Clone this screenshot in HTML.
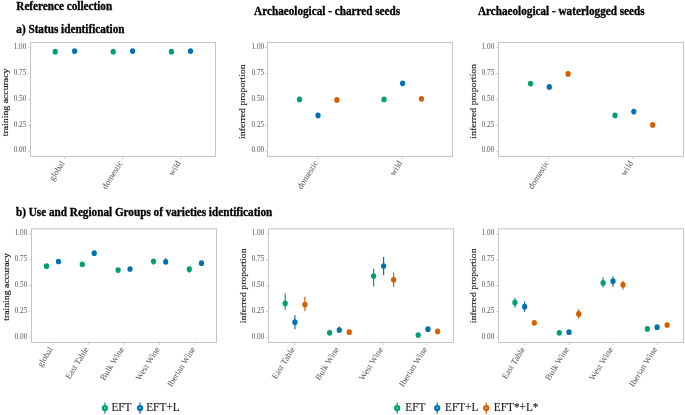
<!DOCTYPE html><html><head><meta charset="utf-8"><style>html,body{margin:0;padding:0;background:#fff;width:685px;height:415px;overflow:hidden}svg{display:block;filter:blur(0.4px)} svg text{font-family:"Liberation Serif",serif}</style></head><body>
<svg width="685" height="415" viewBox="0 0 685 415" font-family='"Liberation Serif", serif'>
<rect width="685" height="415" fill="#fff"/>
<g font-weight="bold" font-size="11.2" fill="#000" stroke="#000" stroke-width="0.3">
<text transform="translate(16.30,9.70) scale(1,1.1)" >Reference collection</text>
<text transform="translate(16.30,33.30) scale(1,1.1)" >a) Status identification</text>
<text transform="translate(254.10,14.80) scale(1,1.1)" >Archaeological - charred seeds</text>
<text transform="translate(477.90,14.80) scale(1,1.1)" >Archaeological - waterlogged seeds</text>
<text transform="translate(16.00,215.90) scale(1,1.1)" >b) Use and Regional Groups of varieties identification</text>
</g>
<rect x="30.5" y="42.5" width="185.00" height="113.90" fill="none" stroke="#c4c4c4" stroke-width="1"/>
<line x1="28.00" x2="30.50" y1="47.68" y2="47.68" stroke="#c4c4c4" stroke-width="0.8"/>
<text x="26.30" y="48.88" font-size="7.2" fill="#555555" text-anchor="end">1.00</text>
<line x1="28.00" x2="30.50" y1="73.56" y2="73.56" stroke="#c4c4c4" stroke-width="0.8"/>
<text x="26.30" y="74.76" font-size="7.2" fill="#555555" text-anchor="end">0.75</text>
<line x1="28.00" x2="30.50" y1="99.45" y2="99.45" stroke="#c4c4c4" stroke-width="0.8"/>
<text x="26.30" y="100.65" font-size="7.2" fill="#555555" text-anchor="end">0.50</text>
<line x1="28.00" x2="30.50" y1="125.34" y2="125.34" stroke="#c4c4c4" stroke-width="0.8"/>
<text x="26.30" y="126.54" font-size="7.2" fill="#555555" text-anchor="end">0.25</text>
<line x1="28.00" x2="30.50" y1="151.22" y2="151.22" stroke="#c4c4c4" stroke-width="0.8"/>
<text x="26.30" y="152.42" font-size="7.2" fill="#555555" text-anchor="end">0.00</text>
<line x1="64.50" x2="64.50" y1="156.40" y2="158.90" stroke="#c4c4c4" stroke-width="0.8"/>
<text transform="translate(59.50,159.70) scale(1,1.0) rotate(-58)" font-size="8.7" fill="#555555" text-anchor="end" dominant-baseline="hanging">global</text>
<line x1="122.55" x2="122.55" y1="156.40" y2="158.90" stroke="#c4c4c4" stroke-width="0.8"/>
<text transform="translate(117.55,159.70) scale(1,1.0) rotate(-58)" font-size="8.7" fill="#555555" text-anchor="end" dominant-baseline="hanging">domestic</text>
<line x1="180.60" x2="180.60" y1="156.40" y2="158.90" stroke="#c4c4c4" stroke-width="0.8"/>
<text transform="translate(175.60,159.70) scale(1,1.0) rotate(-58)" font-size="8.7" fill="#555555" text-anchor="end" dominant-baseline="hanging">wild</text>
<text transform="translate(8.40,102.40) scale(1,1.1) rotate(-90)" font-size="8.9" fill="#1a1a1a" stroke="#1a1a1a" stroke-width="0.15" text-anchor="middle">training accuracy</text>
<rect x="267.5" y="42.5" width="185.00" height="113.90" fill="none" stroke="#c4c4c4" stroke-width="1"/>
<line x1="265.00" x2="267.50" y1="47.68" y2="47.68" stroke="#c4c4c4" stroke-width="0.8"/>
<text x="264.10" y="48.88" font-size="7.2" fill="#555555" text-anchor="end">1.00</text>
<line x1="265.00" x2="267.50" y1="73.56" y2="73.56" stroke="#c4c4c4" stroke-width="0.8"/>
<text x="264.10" y="74.76" font-size="7.2" fill="#555555" text-anchor="end">0.75</text>
<line x1="265.00" x2="267.50" y1="99.45" y2="99.45" stroke="#c4c4c4" stroke-width="0.8"/>
<text x="264.10" y="100.65" font-size="7.2" fill="#555555" text-anchor="end">0.50</text>
<line x1="265.00" x2="267.50" y1="125.34" y2="125.34" stroke="#c4c4c4" stroke-width="0.8"/>
<text x="264.10" y="126.54" font-size="7.2" fill="#555555" text-anchor="end">0.25</text>
<line x1="265.00" x2="267.50" y1="151.22" y2="151.22" stroke="#c4c4c4" stroke-width="0.8"/>
<text x="264.10" y="152.42" font-size="7.2" fill="#555555" text-anchor="end">0.00</text>
<line x1="317.95" x2="317.95" y1="156.40" y2="158.90" stroke="#c4c4c4" stroke-width="0.8"/>
<text transform="translate(312.95,159.70) scale(1,1.0) rotate(-58)" font-size="8.7" fill="#555555" text-anchor="end" dominant-baseline="hanging">domestic</text>
<line x1="402.05" x2="402.05" y1="156.40" y2="158.90" stroke="#c4c4c4" stroke-width="0.8"/>
<text transform="translate(397.05,159.70) scale(1,1.0) rotate(-58)" font-size="8.7" fill="#555555" text-anchor="end" dominant-baseline="hanging">wild</text>
<text transform="translate(245.40,101.60) scale(1,1.1) rotate(-90)" font-size="8.9" fill="#1a1a1a" stroke="#1a1a1a" stroke-width="0.15" text-anchor="middle">inferred proportion</text>
<rect x="498.5" y="42.5" width="185.00" height="113.90" fill="none" stroke="#c4c4c4" stroke-width="1"/>
<line x1="496.00" x2="498.50" y1="47.68" y2="47.68" stroke="#c4c4c4" stroke-width="0.8"/>
<text x="494.30" y="48.88" font-size="7.2" fill="#555555" text-anchor="end">1.00</text>
<line x1="496.00" x2="498.50" y1="73.56" y2="73.56" stroke="#c4c4c4" stroke-width="0.8"/>
<text x="494.30" y="74.76" font-size="7.2" fill="#555555" text-anchor="end">0.75</text>
<line x1="496.00" x2="498.50" y1="99.45" y2="99.45" stroke="#c4c4c4" stroke-width="0.8"/>
<text x="494.30" y="100.65" font-size="7.2" fill="#555555" text-anchor="end">0.50</text>
<line x1="496.00" x2="498.50" y1="125.34" y2="125.34" stroke="#c4c4c4" stroke-width="0.8"/>
<text x="494.30" y="126.54" font-size="7.2" fill="#555555" text-anchor="end">0.25</text>
<line x1="496.00" x2="498.50" y1="151.22" y2="151.22" stroke="#c4c4c4" stroke-width="0.8"/>
<text x="494.30" y="152.42" font-size="7.2" fill="#555555" text-anchor="end">0.00</text>
<line x1="548.95" x2="548.95" y1="156.40" y2="158.90" stroke="#c4c4c4" stroke-width="0.8"/>
<text transform="translate(543.95,159.70) scale(1,1.0) rotate(-58)" font-size="8.7" fill="#555555" text-anchor="end" dominant-baseline="hanging">domestic</text>
<line x1="633.05" x2="633.05" y1="156.40" y2="158.90" stroke="#c4c4c4" stroke-width="0.8"/>
<text transform="translate(628.05,159.70) scale(1,1.0) rotate(-58)" font-size="8.7" fill="#555555" text-anchor="end" dominant-baseline="hanging">wild</text>
<text transform="translate(476.40,101.40) scale(1,1.1) rotate(-90)" font-size="8.9" fill="#1a1a1a" stroke="#1a1a1a" stroke-width="0.15" text-anchor="middle">inferred proportion</text>
<rect x="31.5" y="228.8" width="185.00" height="113.70" fill="none" stroke="#c4c4c4" stroke-width="1"/>
<line x1="29.00" x2="31.50" y1="233.97" y2="233.97" stroke="#c4c4c4" stroke-width="0.8"/>
<text x="27.30" y="235.17" font-size="7.2" fill="#555555" text-anchor="end">1.00</text>
<line x1="29.00" x2="31.50" y1="259.81" y2="259.81" stroke="#c4c4c4" stroke-width="0.8"/>
<text x="27.30" y="261.01" font-size="7.2" fill="#555555" text-anchor="end">0.75</text>
<line x1="29.00" x2="31.50" y1="285.65" y2="285.65" stroke="#c4c4c4" stroke-width="0.8"/>
<text x="27.30" y="286.85" font-size="7.2" fill="#555555" text-anchor="end">0.50</text>
<line x1="29.00" x2="31.50" y1="311.49" y2="311.49" stroke="#c4c4c4" stroke-width="0.8"/>
<text x="27.30" y="312.69" font-size="7.2" fill="#555555" text-anchor="end">0.25</text>
<line x1="29.00" x2="31.50" y1="337.33" y2="337.33" stroke="#c4c4c4" stroke-width="0.8"/>
<text x="27.30" y="338.53" font-size="7.2" fill="#555555" text-anchor="end">0.00</text>
<line x1="52.85" x2="52.85" y1="342.50" y2="345.00" stroke="#c4c4c4" stroke-width="0.8"/>
<text transform="translate(47.85,345.80) scale(1,1.0) rotate(-58)" font-size="8.7" fill="#555555" text-anchor="end" dominant-baseline="hanging">global</text>
<line x1="88.42" x2="88.42" y1="342.50" y2="345.00" stroke="#c4c4c4" stroke-width="0.8"/>
<text transform="translate(83.42,345.80) scale(1,1.0) rotate(-58)" font-size="8.7" fill="#555555" text-anchor="end" dominant-baseline="hanging">East Table</text>
<line x1="124.00" x2="124.00" y1="342.50" y2="345.00" stroke="#c4c4c4" stroke-width="0.8"/>
<text transform="translate(119.00,345.80) scale(1,1.0) rotate(-58)" font-size="8.7" fill="#555555" text-anchor="end" dominant-baseline="hanging">Bulk Wine</text>
<line x1="159.58" x2="159.58" y1="342.50" y2="345.00" stroke="#c4c4c4" stroke-width="0.8"/>
<text transform="translate(154.58,345.80) scale(1,1.0) rotate(-58)" font-size="8.7" fill="#555555" text-anchor="end" dominant-baseline="hanging">West Wine</text>
<line x1="195.15" x2="195.15" y1="342.50" y2="345.00" stroke="#c4c4c4" stroke-width="0.8"/>
<text transform="translate(190.15,345.80) scale(1,1.0) rotate(-58)" font-size="8.7" fill="#555555" text-anchor="end" dominant-baseline="hanging">Iberian Wine</text>
<text transform="translate(9.40,287.00) scale(1,1.1) rotate(-90)" font-size="8.9" fill="#1a1a1a" stroke="#1a1a1a" stroke-width="0.15" text-anchor="middle">training accuracy</text>
<rect x="268.5" y="228.8" width="185.00" height="113.70" fill="none" stroke="#c4c4c4" stroke-width="1"/>
<line x1="266.00" x2="268.50" y1="233.97" y2="233.97" stroke="#c4c4c4" stroke-width="0.8"/>
<text x="264.30" y="235.17" font-size="7.2" fill="#555555" text-anchor="end">1.00</text>
<line x1="266.00" x2="268.50" y1="259.81" y2="259.81" stroke="#c4c4c4" stroke-width="0.8"/>
<text x="264.30" y="261.01" font-size="7.2" fill="#555555" text-anchor="end">0.75</text>
<line x1="266.00" x2="268.50" y1="285.65" y2="285.65" stroke="#c4c4c4" stroke-width="0.8"/>
<text x="264.30" y="286.85" font-size="7.2" fill="#555555" text-anchor="end">0.50</text>
<line x1="266.00" x2="268.50" y1="311.49" y2="311.49" stroke="#c4c4c4" stroke-width="0.8"/>
<text x="264.30" y="312.69" font-size="7.2" fill="#555555" text-anchor="end">0.25</text>
<line x1="266.00" x2="268.50" y1="337.33" y2="337.33" stroke="#c4c4c4" stroke-width="0.8"/>
<text x="264.30" y="338.53" font-size="7.2" fill="#555555" text-anchor="end">0.00</text>
<line x1="294.93" x2="294.93" y1="342.50" y2="345.00" stroke="#c4c4c4" stroke-width="0.8"/>
<text transform="translate(289.93,345.80) scale(1,1.0) rotate(-58)" font-size="8.7" fill="#555555" text-anchor="end" dominant-baseline="hanging">East Table</text>
<line x1="338.98" x2="338.98" y1="342.50" y2="345.00" stroke="#c4c4c4" stroke-width="0.8"/>
<text transform="translate(333.98,345.80) scale(1,1.0) rotate(-58)" font-size="8.7" fill="#555555" text-anchor="end" dominant-baseline="hanging">Bulk Wine</text>
<line x1="383.02" x2="383.02" y1="342.50" y2="345.00" stroke="#c4c4c4" stroke-width="0.8"/>
<text transform="translate(378.02,345.80) scale(1,1.0) rotate(-58)" font-size="8.7" fill="#555555" text-anchor="end" dominant-baseline="hanging">West Wine</text>
<line x1="427.07" x2="427.07" y1="342.50" y2="345.00" stroke="#c4c4c4" stroke-width="0.8"/>
<text transform="translate(422.07,345.80) scale(1,1.0) rotate(-58)" font-size="8.7" fill="#555555" text-anchor="end" dominant-baseline="hanging">Iberian Wine</text>
<text transform="translate(246.40,285.80) scale(1,1.1) rotate(-90)" font-size="8.9" fill="#1a1a1a" stroke="#1a1a1a" stroke-width="0.15" text-anchor="middle">inferred proportion</text>
<rect x="498.5" y="228.8" width="185.00" height="113.70" fill="none" stroke="#c4c4c4" stroke-width="1"/>
<line x1="496.00" x2="498.50" y1="233.97" y2="233.97" stroke="#c4c4c4" stroke-width="0.8"/>
<text x="494.30" y="235.17" font-size="7.2" fill="#555555" text-anchor="end">1.00</text>
<line x1="496.00" x2="498.50" y1="259.81" y2="259.81" stroke="#c4c4c4" stroke-width="0.8"/>
<text x="494.30" y="261.01" font-size="7.2" fill="#555555" text-anchor="end">0.75</text>
<line x1="496.00" x2="498.50" y1="285.65" y2="285.65" stroke="#c4c4c4" stroke-width="0.8"/>
<text x="494.30" y="286.85" font-size="7.2" fill="#555555" text-anchor="end">0.50</text>
<line x1="496.00" x2="498.50" y1="311.49" y2="311.49" stroke="#c4c4c4" stroke-width="0.8"/>
<text x="494.30" y="312.69" font-size="7.2" fill="#555555" text-anchor="end">0.25</text>
<line x1="496.00" x2="498.50" y1="337.33" y2="337.33" stroke="#c4c4c4" stroke-width="0.8"/>
<text x="494.30" y="338.53" font-size="7.2" fill="#555555" text-anchor="end">0.00</text>
<line x1="524.93" x2="524.93" y1="342.50" y2="345.00" stroke="#c4c4c4" stroke-width="0.8"/>
<text transform="translate(519.93,345.80) scale(1,1.0) rotate(-58)" font-size="8.7" fill="#555555" text-anchor="end" dominant-baseline="hanging">East Table</text>
<line x1="568.98" x2="568.98" y1="342.50" y2="345.00" stroke="#c4c4c4" stroke-width="0.8"/>
<text transform="translate(563.98,345.80) scale(1,1.0) rotate(-58)" font-size="8.7" fill="#555555" text-anchor="end" dominant-baseline="hanging">Bulk Wine</text>
<line x1="613.02" x2="613.02" y1="342.50" y2="345.00" stroke="#c4c4c4" stroke-width="0.8"/>
<text transform="translate(608.02,345.80) scale(1,1.0) rotate(-58)" font-size="8.7" fill="#555555" text-anchor="end" dominant-baseline="hanging">West Wine</text>
<line x1="657.07" x2="657.07" y1="342.50" y2="345.00" stroke="#c4c4c4" stroke-width="0.8"/>
<text transform="translate(652.07,345.80) scale(1,1.0) rotate(-58)" font-size="8.7" fill="#555555" text-anchor="end" dominant-baseline="hanging">Iberian Wine</text>
<text transform="translate(476.40,285.80) scale(1,1.1) rotate(-90)" font-size="8.9" fill="#1a1a1a" stroke="#1a1a1a" stroke-width="0.15" text-anchor="middle">inferred proportion</text>
<ellipse cx="55.2" cy="51.7" rx="2.62" ry="2.85" fill="#009E73"/>
<ellipse cx="74.6" cy="51.1" rx="2.62" ry="2.85" fill="#0072B2"/>
<ellipse cx="113.2" cy="51.7" rx="2.62" ry="2.85" fill="#009E73"/>
<ellipse cx="132.6" cy="51.1" rx="2.62" ry="2.85" fill="#0072B2"/>
<ellipse cx="171.4" cy="51.7" rx="2.62" ry="2.85" fill="#009E73"/>
<ellipse cx="190.5" cy="51.1" rx="2.62" ry="2.85" fill="#0072B2"/>
<ellipse cx="299.5" cy="99.4" rx="2.62" ry="2.85" fill="#009E73"/>
<line x1="318.0" x2="318.0" y1="113.5" y2="117.5" stroke="#0072B2" stroke-width="1.2"/>
<ellipse cx="318.0" cy="115.4" rx="2.62" ry="2.85" fill="#0072B2"/>
<ellipse cx="336.9" cy="99.9" rx="2.62" ry="2.85" fill="#D55E00"/>
<ellipse cx="384.0" cy="99.4" rx="2.62" ry="2.85" fill="#009E73"/>
<line x1="402.6" x2="402.6" y1="81.0" y2="85.8" stroke="#0072B2" stroke-width="1.2"/>
<ellipse cx="402.6" cy="83.3" rx="2.62" ry="2.85" fill="#0072B2"/>
<ellipse cx="421.4" cy="98.8" rx="2.62" ry="2.85" fill="#D55E00"/>
<ellipse cx="530.5" cy="83.6" rx="2.62" ry="2.85" fill="#009E73"/>
<ellipse cx="549.3" cy="86.9" rx="2.62" ry="2.85" fill="#0072B2"/>
<ellipse cx="568.1" cy="73.9" rx="2.62" ry="2.85" fill="#D55E00"/>
<ellipse cx="615.0" cy="115.4" rx="2.62" ry="2.85" fill="#009E73"/>
<ellipse cx="633.8" cy="111.6" rx="2.62" ry="2.85" fill="#0072B2"/>
<ellipse cx="652.7" cy="124.9" rx="2.62" ry="2.85" fill="#D55E00"/>
<ellipse cx="46.5" cy="266.2" rx="2.62" ry="2.85" fill="#009E73"/>
<ellipse cx="58.5" cy="261.5" rx="2.62" ry="2.85" fill="#0072B2"/>
<ellipse cx="82.3" cy="264.3" rx="2.62" ry="2.85" fill="#009E73"/>
<ellipse cx="94.2" cy="253.2" rx="2.62" ry="2.85" fill="#0072B2"/>
<ellipse cx="118.1" cy="270.1" rx="2.62" ry="2.85" fill="#009E73"/>
<ellipse cx="130.0" cy="269.0" rx="2.62" ry="2.85" fill="#0072B2"/>
<line x1="153.5" x2="153.5" y1="259.5" y2="264.8" stroke="#009E73" stroke-width="1.2"/>
<ellipse cx="153.5" cy="261.3" rx="2.62" ry="2.85" fill="#009E73"/>
<line x1="165.7" x2="165.7" y1="258.0" y2="262.0" stroke="#0072B2" stroke-width="1.2"/>
<ellipse cx="165.7" cy="261.8" rx="2.62" ry="2.85" fill="#0072B2"/>
<line x1="189.3" x2="189.3" y1="268.0" y2="272.8" stroke="#009E73" stroke-width="1.2"/>
<ellipse cx="189.3" cy="269.2" rx="2.62" ry="2.85" fill="#009E73"/>
<ellipse cx="201.5" cy="263.2" rx="2.62" ry="2.85" fill="#0072B2"/>
<line x1="285.2" x2="285.2" y1="293.4" y2="309.8" stroke="#009E73" stroke-width="1.2"/>
<ellipse cx="285.2" cy="303.4" rx="2.62" ry="2.85" fill="#009E73"/>
<line x1="294.9" x2="294.9" y1="315.3" y2="329.2" stroke="#0072B2" stroke-width="1.2"/>
<ellipse cx="294.9" cy="322.2" rx="2.62" ry="2.85" fill="#0072B2"/>
<line x1="304.9" x2="304.9" y1="296.7" y2="311.1" stroke="#D55E00" stroke-width="1.2"/>
<ellipse cx="304.9" cy="304.5" rx="2.62" ry="2.85" fill="#D55E00"/>
<ellipse cx="329.6" cy="332.8" rx="2.62" ry="2.85" fill="#009E73"/>
<line x1="339.3" x2="339.3" y1="326.4" y2="332.8" stroke="#0072B2" stroke-width="1.2"/>
<ellipse cx="339.3" cy="330.0" rx="2.62" ry="2.85" fill="#0072B2"/>
<ellipse cx="349.2" cy="332.2" rx="2.62" ry="2.85" fill="#D55E00"/>
<line x1="373.6" x2="373.6" y1="268.7" y2="286.5" stroke="#009E73" stroke-width="1.2"/>
<ellipse cx="373.6" cy="276.0" rx="2.62" ry="2.85" fill="#009E73"/>
<line x1="383.6" x2="383.6" y1="257.1" y2="275.1" stroke="#0072B2" stroke-width="1.2"/>
<ellipse cx="383.6" cy="266.0" rx="2.62" ry="2.85" fill="#0072B2"/>
<line x1="393.6" x2="393.6" y1="272.6" y2="287.0" stroke="#D55E00" stroke-width="1.2"/>
<ellipse cx="393.6" cy="279.8" rx="2.62" ry="2.85" fill="#D55E00"/>
<ellipse cx="418.2" cy="335.0" rx="2.62" ry="2.85" fill="#009E73"/>
<ellipse cx="427.9" cy="329.2" rx="2.62" ry="2.85" fill="#0072B2"/>
<ellipse cx="437.6" cy="331.4" rx="2.62" ry="2.85" fill="#D55E00"/>
<line x1="514.9" x2="514.9" y1="297.8" y2="307.8" stroke="#009E73" stroke-width="1.2"/>
<ellipse cx="514.9" cy="302.6" rx="2.62" ry="2.85" fill="#009E73"/>
<line x1="524.6" x2="524.6" y1="301.4" y2="311.7" stroke="#0072B2" stroke-width="1.2"/>
<ellipse cx="524.6" cy="306.7" rx="2.62" ry="2.85" fill="#0072B2"/>
<ellipse cx="534.3" cy="322.8" rx="2.62" ry="2.85" fill="#D55E00"/>
<ellipse cx="559.3" cy="332.8" rx="2.62" ry="2.85" fill="#009E73"/>
<ellipse cx="569.0" cy="332.2" rx="2.62" ry="2.85" fill="#0072B2"/>
<line x1="578.7" x2="578.7" y1="309.2" y2="318.6" stroke="#D55E00" stroke-width="1.2"/>
<ellipse cx="578.7" cy="313.9" rx="2.62" ry="2.85" fill="#D55E00"/>
<line x1="603.1" x2="603.1" y1="277.3" y2="287.6" stroke="#009E73" stroke-width="1.2"/>
<ellipse cx="603.1" cy="282.9" rx="2.62" ry="2.85" fill="#009E73"/>
<line x1="613.0" x2="613.0" y1="276.5" y2="286.8" stroke="#0072B2" stroke-width="1.2"/>
<ellipse cx="613.0" cy="281.2" rx="2.62" ry="2.85" fill="#0072B2"/>
<line x1="623.0" x2="623.0" y1="280.7" y2="289.5" stroke="#D55E00" stroke-width="1.2"/>
<ellipse cx="623.0" cy="284.8" rx="2.62" ry="2.85" fill="#D55E00"/>
<ellipse cx="647.4" cy="328.9" rx="2.62" ry="2.85" fill="#009E73"/>
<ellipse cx="657.1" cy="327.2" rx="2.62" ry="2.85" fill="#0072B2"/>
<ellipse cx="667.1" cy="325.0" rx="2.62" ry="2.85" fill="#D55E00"/>
<line x1="104.9" x2="104.9" y1="402.60" y2="413.70" stroke="#009E73" stroke-width="1.2"/>
<circle cx="104.9" cy="408.1" r="3.15" fill="#009E73"/>
<circle cx="104.9" cy="408.1" r="1.0" fill="#fff" fill-opacity="0.45"/>
<text transform="translate(111.40,411.10) scale(1,1.05)" font-size="11.3" fill="#1a1a1a" stroke="#1a1a1a" stroke-width="0.12">EFT</text>
<line x1="140.0" x2="140.0" y1="402.60" y2="413.70" stroke="#0072B2" stroke-width="1.2"/>
<circle cx="140.0" cy="408.1" r="3.15" fill="#0072B2"/>
<circle cx="140.0" cy="408.1" r="1.0" fill="#fff" fill-opacity="0.45"/>
<text transform="translate(146.20,411.10) scale(1,1.05)" font-size="11.3" fill="#1a1a1a" stroke="#1a1a1a" stroke-width="0.12">EFT+L</text>
<line x1="397.2" x2="397.2" y1="402.60" y2="413.70" stroke="#009E73" stroke-width="1.2"/>
<circle cx="397.2" cy="408.1" r="3.15" fill="#009E73"/>
<circle cx="397.2" cy="408.1" r="1.0" fill="#fff" fill-opacity="0.45"/>
<text transform="translate(405.30,411.10) scale(1,1.05)" font-size="11.3" fill="#1a1a1a" stroke="#1a1a1a" stroke-width="0.12">EFT</text>
<line x1="437.2" x2="437.2" y1="402.60" y2="413.70" stroke="#0072B2" stroke-width="1.2"/>
<circle cx="437.2" cy="408.1" r="3.15" fill="#0072B2"/>
<circle cx="437.2" cy="408.1" r="1.0" fill="#fff" fill-opacity="0.45"/>
<text transform="translate(445.00,411.10) scale(1,1.05)" font-size="11.3" fill="#1a1a1a" stroke="#1a1a1a" stroke-width="0.12">EFT+L</text>
<line x1="486.2" x2="486.2" y1="402.60" y2="413.70" stroke="#D55E00" stroke-width="1.2"/>
<circle cx="486.2" cy="408.1" r="3.15" fill="#D55E00"/>
<circle cx="486.2" cy="408.1" r="1.0" fill="#fff" fill-opacity="0.45"/>
<text transform="translate(493.80,411.10) scale(1,1.05)" font-size="11.3" fill="#1a1a1a" stroke="#1a1a1a" stroke-width="0.12">EFT*+L*</text>
</svg></body></html>
